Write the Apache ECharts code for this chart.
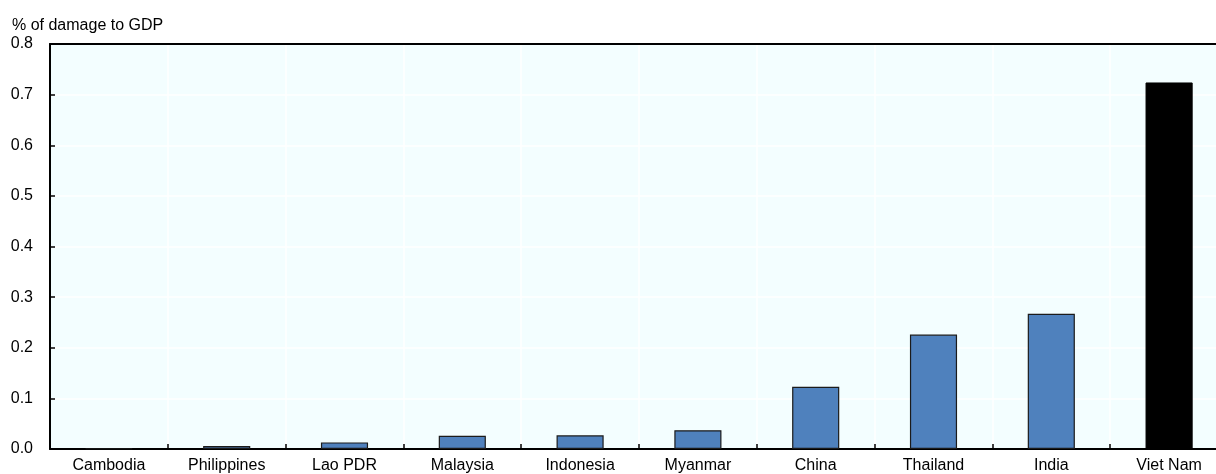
<!DOCTYPE html>
<html>
<head>
<meta charset="utf-8">
<script src="https://cdn.jsdelivr.net/npm/echarts@6/dist/echarts.min.js"></script>
<style>
  html, body { margin: 0; padding: 0; background: #ffffff; overflow: hidden; width: 1216px; height: 474px; }
  /* the plot runs past the right edge of the page, so the canvas is wider than the window */
  #chart { width: 1232px; height: 474px; }
</style>
</head>
<body>
<div id="chart"></div>
<script>
// Economic damage as a share of GDP, by country
const countries = ['Cambodia', 'Philippines', 'Lao PDR', 'Malaysia', 'Indonesia', 'Myanmar', 'China', 'Thailand', 'India', 'Viet Nam'];
const damageShare = [0.001, 0.006, 0.013, 0.026, 0.027, 0.037, 0.123, 0.226, 0.267, 0.724];
const highlighted = 'Viet Nam';
const yTicks = ['0.0', '0.1', '0.2', '0.3', '0.4', '0.5', '0.6', '0.7', '0.8'];

const font = 'Liberation Sans, Arial, sans-serif';
const chart = echarts.init(document.getElementById('chart'));

chart.setOption({
  animation: false,
  title: {
    text: '% of damage to GDP',
    left: 7, top: 13,
    textStyle: { fontFamily: font, fontSize: 16, fontWeight: 'normal', color: '#000' }
  },
  grid: {
    left: 50, top: 44, width: 1178, height: 405,
    show: true, backgroundColor: '#f3feff', borderWidth: 0
  },
  xAxis: [{
    type: 'category',
    data: countries,
    boundaryGap: true,
    axisLine: { lineStyle: { color: '#000', width: 2 } },
    axisTick: { show: true, inside: true, length: 5, lineStyle: { color: '#000', width: 1.5 } },
    axisLabel: { fontFamily: font, fontSize: 16, color: '#000', margin: 9, interval: 0 },
    splitLine: { show: true, lineStyle: { color: '#ffffff', width: 1.5 } }
  }, {
    type: 'category',
    data: countries,
    position: 'top',
    axisLine: { lineStyle: { color: '#000', width: 2 } },
    axisTick: { show: false },
    axisLabel: { show: false },
    splitLine: { show: false }
  }],
  yAxis: {
    type: 'value',
    min: 0, max: 0.8, interval: 0.1,
    axisLine: { show: true, lineStyle: { color: '#000', width: 2 } },
    axisTick: { show: true, inside: true, length: 5, lineStyle: { color: '#000', width: 1.5 } },
    axisLabel: {
      fontFamily: font, fontSize: 16, color: '#000', margin: 17,
      formatter: (v) => yTicks[Math.round(v * 10)]
    },
    splitLine: { show: true, lineStyle: { color: '#ffffff', width: 1.5 } }
  },
  series: [{
    type: 'bar',
    barWidth: '40%',
    data: damageShare.map((v, i) => ({
      value: v,
      itemStyle: countries[i] === highlighted
        ? { color: '#000000', borderColor: '#000000', borderWidth: 1 }
        : { color: '#4f81bd', borderColor: '#1b1b1b', borderWidth: 1.2 }
    }))
  }]
});
</script>
</body>
</html>
